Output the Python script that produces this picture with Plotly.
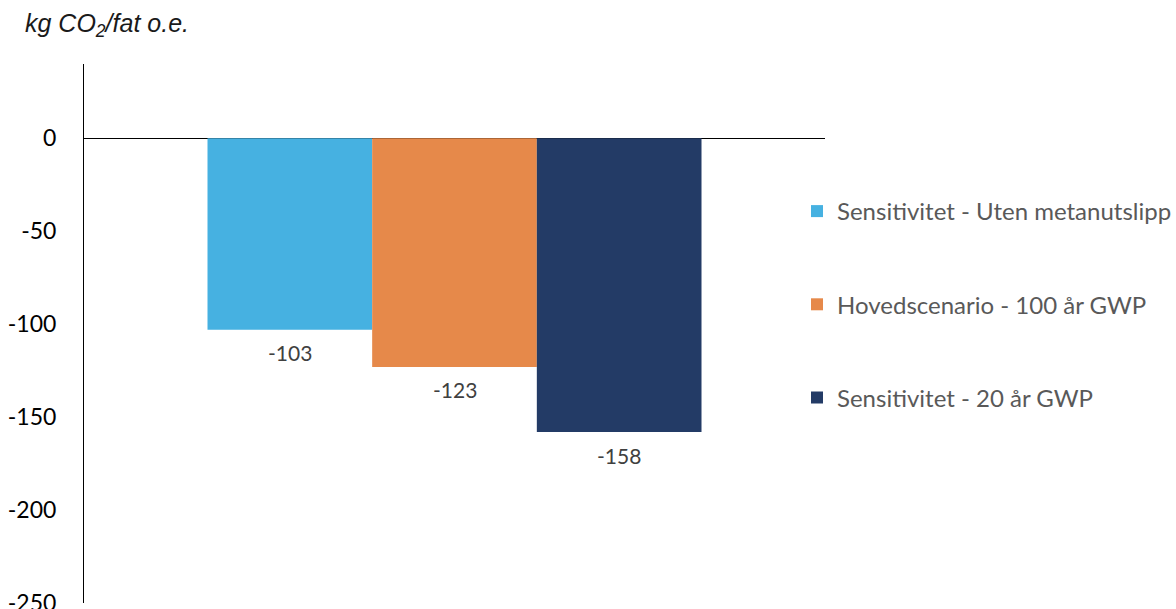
import plotly.graph_objects as go

series_names = ["Sensitivitet - Uten metanutslipp",
                "Hovedscenario - 100 år GWP",
                "Sensitivitet - 20 år GWP"]
values = [-103, -123, -158]
colors = ["#46B1E1", "#E6894A", "#233B66"]
y_ticks = [0, -50, -100, -150, -200, -250]
y_title = "<i>kg CO<sub>2</sub>/fat o.e.</i>"

W, H = 1176, 609
L, R, T, B = 84, 1176 - 825, 64, 6
pw = W - L - R
ph = H - T - B

fig = go.Figure()
for i, (name, v, c) in enumerate(zip(series_names, values, colors)):
    fig.add_trace(go.Bar(
        x=[i], y=[v], name=name, width=1.0,
        marker=dict(color=c, line=dict(width=0)),
        legendgroup=f"g{i}",
    ))
    fig.add_annotation(
        x=i, y=v, xref="x", yref="y", text=str(v), showarrow=False,
        yanchor="middle", yshift=-23,
        font=dict(family="Lato", size=21, color="#404040"),
    )

fig.add_annotation(
    x=(23 - L) / pw, y=(H - B - 25) / ph, xref="paper", yref="paper",
    text=y_title, showarrow=False, xanchor="left", yanchor="middle",
    font=dict(family="Liberation Sans, Arial", size=25, color="#1a1a1a"),
)

fig.update_layout(
    width=W, height=H,
    margin=dict(l=L, r=R, t=T, b=B, pad=0, autoexpand=False),
    paper_bgcolor="white", plot_bgcolor="white",
    barmode="overlay",
    showlegend=True,
    legend=dict(
        x=(797 - L) / pw, y=(H - B - 189) / ph, xanchor="left", yanchor="top",
        font=dict(family="Lato", size=24, color="#595959"),
        tracegroupgap=59, bgcolor="rgba(0,0,0,0)",
    ),
    xaxis=dict(range=[-1.25, 3.25], showticklabels=False, showgrid=False,
               zeroline=False, showline=False, ticks=""),
    yaxis=dict(range=[-250, 40], tickvals=y_ticks, ticktext=[str(t) for t in y_ticks],
               showgrid=False, zeroline=True, zerolinecolor="#000000", zerolinewidth=1,
               showline=True, linecolor="#000000", linewidth=1, ticks="",
               ticklabelstandoff=22, ticklabeloverflow="allow",
               tickfont=dict(family="Lato", size=23, color="#000000")),
)

fig.write_html("out.html")
